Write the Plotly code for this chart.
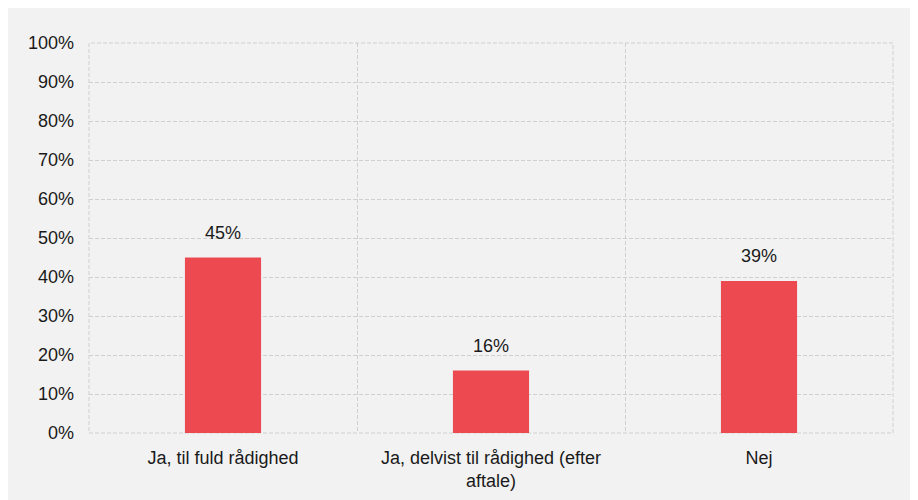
import plotly.graph_objects as go

categories = ["Ja, til fuld rådighed", "Ja, delvist til rådighed (efter<br>aftale)", "Nej"]
values = [0.45, 0.16, 0.39]
labels = ["45%", "16%", "39%"]
y_ticks = [i / 10 for i in range(11)]
y_tick_labels = [f"{i * 10}%" for i in range(11)]

BG = "#f2f2f2"
GRID = "#d0d0d0"
BAR = "#ec4a50"
TXT = "#1a1a1a"
FONT = "Liberation Sans, Arial, sans-serif"
DASH = "4px,2px"

fig = go.Figure()
fig.add_trace(go.Bar(x=categories, y=values, marker=dict(color=BAR, line=dict(width=0)),
                     width=0.284, hoverinfo="skip"))

for c, v, t in zip(categories, values, labels):
    fig.add_annotation(x=c, y=v, text=t, showarrow=False, yanchor="bottom", yshift=13,
                       font=dict(size=18, color=TXT, family=FONT))

# dashed border around plot area (edge grid lines)
fig.add_shape(type="rect", xref="paper", yref="paper", x0=0, x1=1, y0=0, y1=1,
              line=dict(color=GRID, width=1, dash=DASH), layer="below")

fig.update_layout(
    width=910, height=492,
    margin=dict(l=81, r=25, t=35, b=67),
    paper_bgcolor=BG, plot_bgcolor=BG,
    font=dict(family=FONT, size=18, color=TXT),
    showlegend=False,
    xaxis=dict(tickson="boundaries", showgrid=True, gridcolor=GRID, griddash=DASH, gridwidth=1,
               ticks="", showline=False, zeroline=False, tickfont=dict(size=18, color=TXT),
               ticklabelstandoff=12, range=[-0.5, 2.5], automargin=False),
    yaxis=dict(range=[0, 1], tickvals=y_ticks, ticktext=y_tick_labels, showgrid=True,
               gridcolor=GRID, griddash=DASH, gridwidth=1, zeroline=False, showline=False,
               ticks="", tickfont=dict(size=18, color=TXT), ticklabelstandoff=14,
               automargin=False),
)

fig.write_html("out.html")
